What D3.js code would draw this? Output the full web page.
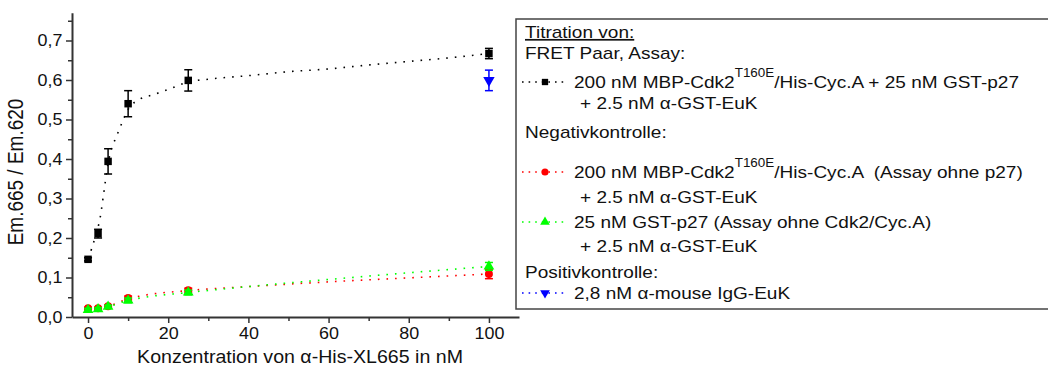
<!DOCTYPE html>
<html>
<head>
<meta charset="utf-8">
<script src="https://cdn.jsdelivr.net/npm/d3@7"></script>
<style>
    body { margin: 0; background: #fff; }
    svg { display: block; font-family: "Liberation Sans", Arial, sans-serif; }
    svg text { white-space: pre; }
</style>
</head>
<body>
<div id="chart"><svg></svg></div>
<script>
// measured points
const concentrations = [0, 2.5, 5, 10, 25, 100];
const assayValues = [0.146, 0.211, 0.394, 0.540, 0.599, 0.667];
const assayErrors = [0.004, 0.011, 0.032, 0.033, 0.027, 0.013];
const noP27Values = [0.022, 0.022, 0.027, 0.048, 0.068, 0.109];
const noP27Errors = [0.003, 0.003, 0.004, 0.005, 0.005, 0.012];
const noCdkValues = [0.018, 0.020, 0.026, 0.042, 0.062, 0.128];
const noCdkErrors = [0.004, 0.004, 0.004, 0.006, 0.006, 0.010];
const positiveX = [100];
const positiveValues = [0.599];
const positiveErrors = [0.026];

// dotted fit curves
const assayFitX = [0, 1, 2, 3, 4, 5, 6, 7, 8, 9, 10, 13, 16, 20, 25, 30, 40, 50, 60, 70, 80, 90, 100];
const assayFitY = [0.148, 0.176, 0.21, 0.25, 0.32, 0.39, 0.43, 0.455, 0.48, 0.505, 0.525, 0.552, 0.562, 0.576, 0.595, 0.602, 0.611, 0.621, 0.628, 0.638, 0.647, 0.656, 0.667];
const ctrlFitX = [0, 2.5, 5, 10, 13, 25, 40, 60, 80, 100];
const noP27FitY = [0.022, 0.022, 0.027, 0.046, 0.053, 0.067, 0.077, 0.089, 0.099, 0.109];
const noCdkFitY = [0.018, 0.020, 0.026, 0.042, 0.048, 0.062, 0.077, 0.095, 0.112, 0.128];

const xTicks = [0, 20, 40, 60, 80, 100];
const xMinorTicks = [10, 30, 50, 70, 90];
const yTicks = [0, 0.1, 0.2, 0.3, 0.4, 0.5, 0.6, 0.7];
const yMinorTicks = [0.05, 0.15, 0.25, 0.35, 0.45, 0.55, 0.65, 0.75];

const WIDTH = 1048, HEIGHT = 369;
const SX = 1.12; // the glyphs in the original are a bit wide
const svg = d3.select('svg').attr('width', WIDTH).attr('height', HEIGHT);

const x = d3.scaleLinear().domain([-4, 107.5]).range([72, 519]);
const y = d3.scaleLinear().domain([0, 0.77]).range([317, 317 - 0.77 * 395]);
const fmt = d => d3.format('.1f')(d).replace('.', ',');
const AXIS = '#333';
const TXT = '#111';

// axes
svg.append('g').attr('transform', 'translate(0,317)')
    .call(d3.axisBottom(x).tickValues(xTicks).tickSize(6).tickSizeOuter(0).tickPadding(5));
svg.append('g').attr('transform', 'translate(0,317)')
    .call(d3.axisBottom(x).tickValues(xMinorTicks).tickSize(4).tickSizeOuter(0).tickFormat(''))
    .select('.domain').remove();
const yAxis = svg.append('g').attr('transform', 'translate(72,0)')
    .call(d3.axisLeft(y).tickValues(yTicks).tickFormat(fmt).tickSize(6).tickSizeOuter(0));
svg.append('g').attr('transform', 'translate(72,0)')
    .call(d3.axisLeft(y).tickValues(yMinorTicks).tickSize(4).tickSizeOuter(0).tickFormat(''))
    .select('.domain').remove();
svg.selectAll('.domain').attr('stroke', AXIS).attr('stroke-width', 2);
svg.selectAll('.tick line').attr('stroke', AXIS).attr('stroke-width', 1.5);
svg.selectAll('.tick text').attr('font-size', 16).attr('fill', TXT)
    .attr('font-family', '"Liberation Sans", Arial, sans-serif')
    .attr('transform', `scale(${SX},1)`);
yAxis.selectAll('.tick text').attr('x', -8.5);

function sText(g, tx, ty, txt, size) {
    return g.append('text').attr('transform', `translate(${tx},${ty}) scale(${SX},1)`)
        .attr('font-size', size).attr('fill', TXT).text(txt);
}

sText(svg, 300, 363, 'Konzentration von α-His-XL665 in nM', 17.5).attr('text-anchor', 'middle');
svg.append('text').attr('transform', 'translate(23,172) rotate(-90) scale(1,1.12)').attr('text-anchor', 'middle')
    .attr('font-size', 19).attr('fill', TXT)
    .text('Em.665 / Em.620');

// fit curves
const fitLine = d3.line().x(d => x(d[0])).y(d => y(d[1])).curve(d3.curveMonotoneX);
const fits = [
    {xs: assayFitX, ys: assayFitY, color: '#000'},
    {xs: ctrlFitX, ys: noP27FitY, color: '#ff0000'},
    {xs: ctrlFitX, ys: noCdkFitY, color: '#00ff00'}
];
fits.forEach(f => {
    svg.append('path').datum(f.xs.map((v, i) => [v, f.ys[i]]))
        .attr('d', fitLine).attr('fill', 'none').attr('stroke', f.color)
        .attr('stroke-width', 1.6).attr('stroke-dasharray', '1.6 7');
});

// points with error bars
const series = [
    {xs: concentrations, vals: noP27Values, errs: noP27Errors, color: '#ff0000', sym: d3.symbolCircle, size: 50, rot: 0},
    {xs: concentrations, vals: noCdkValues, errs: noCdkErrors, color: '#00ff00', sym: d3.symbolTriangle, size: 50, rot: 0},
    {xs: concentrations, vals: assayValues, errs: assayErrors, color: '#000', sym: d3.symbolSquare, size: 56, rot: 0},
    {xs: positiveX, vals: positiveValues, errs: positiveErrors, color: '#0000ff', sym: d3.symbolTriangle, size: 56, rot: 180}
];
series.forEach(s => {
    const pts = s.xs.map((v, i) => ({x: v, v: s.vals[i], e: s.errs[i]}));
    const g = svg.append('g');
    const eb = g.selectAll('.eb').data(pts).enter().append('g')
        .attr('stroke', s.color).attr('stroke-width', 1.5);
    eb.append('line').attr('x1', d => x(d.x)).attr('x2', d => x(d.x))
        .attr('y1', d => y(d.v + d.e)).attr('y2', d => y(d.v - d.e));
    eb.append('line').attr('x1', d => x(d.x) - 4).attr('x2', d => x(d.x) + 4)
        .attr('y1', d => y(d.v + d.e)).attr('y2', d => y(d.v + d.e));
    eb.append('line').attr('x1', d => x(d.x) - 4).attr('x2', d => x(d.x) + 4)
        .attr('y1', d => y(d.v - d.e)).attr('y2', d => y(d.v - d.e));
    g.selectAll('.pt').data(pts).enter().append('path')
        .attr('d', d3.symbol().type(s.sym).size(s.size))
        .attr('transform', d => `translate(${x(d.x)},${y(d.v)}) rotate(${s.rot})`)
        .attr('fill', s.color);
});

// legend
const lg = svg.append('g');
lg.append('rect').attr('x', 516).attr('y', 19).attr('width', 560).attr('height', 290)
    .attr('fill', 'none').attr('stroke', '#444').attr('stroke-width', 1.5);

function entry(yy, color, sym, rot) {
    lg.append('line').attr('x1', 522).attr('x2', 566).attr('y1', yy - 6).attr('y2', yy - 6)
        .attr('stroke', color).attr('stroke-width', 1.6).attr('stroke-dasharray', '1.6 5');
    lg.append('path').attr('d', d3.symbol().type(sym).size(40))
        .attr('transform', `translate(545,${yy - 6}) rotate(${rot})`).attr('fill', color);
}
function supLine(yy, before, sup, after) {
    const t = sText(lg, 574, yy, '', 17);
    t.append('tspan').text(before);
    t.append('tspan').attr('dy', -11).attr('font-size', 12).text(sup);
    t.append('tspan').attr('dy', 11).text(after);
}

sText(lg, 525, 38, 'Titration von:', 17).attr('text-decoration', 'underline');
sText(lg, 525, 59, 'FRET Paar, Assay:', 17);
entry(88, '#000', d3.symbolSquare, 0);
supLine(88, '200 nM MBP-Cdk2', 'T160E', '/His-Cyc.A + 25 nM GST-p27');
sText(lg, 580, 109, '+ 2.5 nM α-GST-EuK', 17);
sText(lg, 525, 138, 'Negativkontrolle:', 17);
entry(178, '#ff0000', d3.symbolCircle, 0);
supLine(178, '200 nM MBP-Cdk2', 'T160E', '/His-Cyc.A  (Assay ohne p27)');
sText(lg, 580, 203, '+ 2.5 nM α-GST-EuK', 17);
entry(228, '#00ff00', d3.symbolTriangle, 0);
sText(lg, 574, 228, '25 nM GST-p27 (Assay ohne Cdk2/Cyc.A)', 17);
sText(lg, 580, 252, '+ 2.5 nM α-GST-EuK', 17);
sText(lg, 525, 278, 'Positivkontrolle:', 17);
entry(299, '#0000ff', d3.symbolTriangle, 180);
sText(lg, 574, 299, '2,8 nM α-mouse IgG-EuK', 17);
</script>
</body>
</html>
